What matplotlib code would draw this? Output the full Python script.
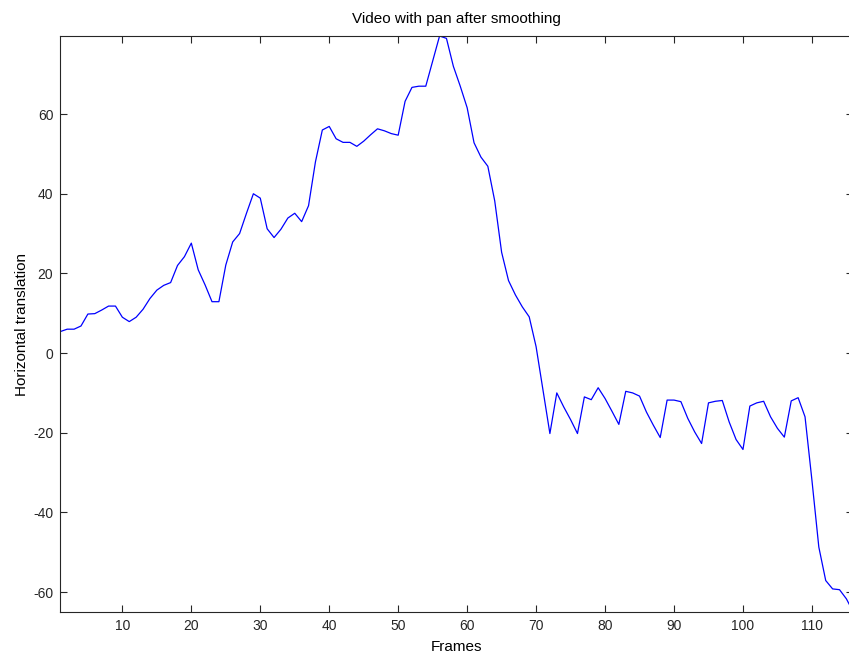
import matplotlib
matplotlib.use("Agg")
import matplotlib.pyplot as plt
import numpy as np

frames = list(range(1, 117))
translation = [
    5.4, 6.0, 6.0, 6.8, 9.8, 9.9, 10.8, 11.8, 11.8, 9.0,
    7.9, 9.0, 11.0, 13.7, 15.8, 17.0, 17.7, 22.0, 24.2, 27.6,
    20.9, 17.1, 12.9, 12.9, 22.1, 27.9, 30.0, 35.1, 40.0, 38.9,
    31.2, 29.0, 31.1, 33.9, 35.1, 33.0, 37.0, 48.0, 56.0, 56.9,
    53.8, 52.9, 52.9, 51.9, 53.2, 54.8, 56.3, 55.8, 55.1, 54.7,
    63.2, 66.7, 67.0, 67.0, 73.3, 79.6, 79.0, 72.0, 67.0, 61.6,
    52.8, 49.2, 46.9, 38.2, 25.3, 18.2, 14.6, 11.6, 9.1, 1.6,
    -9.3, -20.2, -10.0, -13.5, -16.7, -20.2, -11.0, -11.7, -8.7, -11.4,
    -14.6, -17.9, -9.6, -10.0, -10.8, -14.8, -18.1, -21.2, -11.8, -11.8,
    -12.2, -16.4, -19.8, -22.7, -12.5, -12.1, -11.9, -17.3, -21.7, -24.2,
    -13.3, -12.5, -12.1, -16.0, -18.9, -21.1, -12.0, -11.2, -16.0, -31.9,
    -48.7, -57.1, -59.2, -59.4, -61.7, -65.0,
]
xticks = [10, 20, 30, 40, 50, 60, 70, 80, 90, 100, 110]
yticks = [-60, -40, -20, 0, 20, 40, 60]

plt.rcParams['font.family'] = ['Liberation Sans', 'DejaVu Sans']
plt.rcParams['axes.unicode_minus'] = False

fig = plt.figure(figsize=(8.49, 6.56), dpi=100)
ax = fig.add_axes([60.3 / 849, 44 / 656, 793 / 849, 576 / 656])
ax.plot(frames, translation, color='#0000ff', linewidth=0.9)
ax.set_xlim(min(frames), max(frames))
ax.set_ylim(min(translation), max(translation))
ax.set_xticks(xticks)
ax.set_yticks(yticks)
ax.tick_params(direction='in', length=5, width=0.8, top=True, right=True,
               labelsize=10, colors='#262626', pad=5)
for s in ax.spines.values():
    s.set_color('#262626')
    s.set_linewidth(0.8)
ax.set_title('Video with pan after smoothing', fontsize=11, pad=9)
ax.set_xlabel('Frames', fontsize=11, labelpad=5)
ax.set_ylabel('Horizontal translation', fontsize=11, labelpad=3)
fig.savefig('out.png', dpi=100)
